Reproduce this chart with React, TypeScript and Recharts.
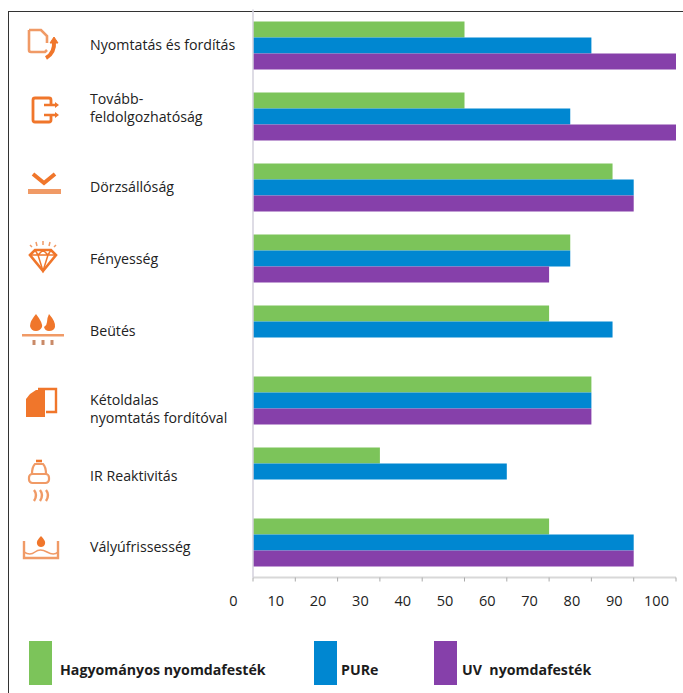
import { Bar, BarChart, Legend, XAxis, YAxis } from 'recharts';

const categories = [
  'Nyomtatás és fordítás',
  'Tovább-\nfeldolgozhatóság',
  'Dörzsállóság',
  'Fényesség',
  'Beütés',
  'Kétoldalas\nnyomtatás fordítóval',
  'IR Reaktivitás',
  'Vályúfrissesség',
];
const hagyomanyos = [50, 50, 85, 75, 70, 80, 30, 70];
const pure = [80, 75, 90, 75, 85, 80, 60, 90];
const uv = [100, 100, 90, 70, null, 80, null, 90];
const xTicks = [0, 10, 20, 30, 40, 50, 60, 70, 80, 90, 100];

const chartData = categories.map((name, i) => ({
  name,
  hagyomanyos: hagyomanyos[i],
  pure: pure[i],
  uv: uv[i],
}));

const GREEN = '#7cc45a';
const BLUE = '#0087d1';
const PURPLE = '#8640aa';
const ORANGE = '#f0762b';
const SOFT = '#f09a66';
const FONT = '"Open Sans", sans-serif';

// label nudges from the row centre, the original places them by hand
const labelShift = [0, -8, 0, 1, 2, 9, 5, 5];

const icons = [
  <g fill="none" stroke={SOFT} strokeWidth="2.6" key="0">
    <path d="M-14 -14 H-2 L4 -8 V-1 M-14 -14 V6 Q-14 8 -12 8 H2 L4 6" />
    <path d="M3 14 Q12 9 11 -3" stroke={ORANGE} strokeWidth="4" />
    <path d="M15 -1 L11 -7 L7 -1 Z" fill={ORANGE} stroke={ORANGE} strokeWidth="1" />
  </g>,
  <g fill="none" stroke={ORANGE} strokeWidth="2.8" key="1">
    <path d="M6 -6 V-10 Q6 -12 4 -12 H-10 Q-12 -12 -12 -10 V10 Q-12 12 -10 12 H4 Q6 12 6 10 V6" />
    <path d="M-1 -5 H11 M-1 5 H11" strokeWidth="2.4" />
    <path d="M10 -8 L14 -5 L10 -2 Z M10 2 L14 5 L10 8 Z" fill={ORANGE} stroke="none" />
  </g>,
  <g key="2">
    <path d="M-11 -12 L0 -3 L11 -12" fill="none" stroke={ORANGE} strokeWidth="4" />
    <rect x={-16} y={3} width={33} height={5} fill={SOFT} />
  </g>,
  <g key="3" fill="none" stroke={ORANGE}>
    <path d="M-13 -6 L-8 -11 H8 L13 -6 L0 10 Z" strokeWidth="2.6" />
    <path d="M-13 -6 H13 M-5 -6 L0 10 L5 -6 M-8 -11 L-5 -6 L0 -11 L5 -6 L8 -11" strokeWidth="1.5" />
    <path d="M0 -20 V-16 M-7 -19 L-6 -15 M7 -19 L6 -15 M-13 -16 L-11 -14 M13 -16 L11 -14" stroke={SOFT} strokeWidth="1.5" />
  </g>,
  <g key="4">
    <path d="M-7 -14 Q0 -5 -1 -1 Q-3 3 -7 3 Q-12 3 -13 -2 Q-13 -7 -7 -14 Z" fill={ORANGE} />
    <path d="M6 -14 Q13 -6 12 -1 Q11 3 6 3 Q2 3 1 -1 Q4 -3 4 -6 Q4 -10 6 -14 Z" fill={ORANGE} />
    <rect x={-21} y={6} width={42} height={2.5} fill={SOFT} />
    <path d="M-9 12 V17 M0 12 V17 M9 12 V17" stroke="#c98a68" strokeWidth="3" />
  </g>,
  <g key="5">
    <path d="M-4 -13 H14 V10 H4" fill="none" stroke={ORANGE} strokeWidth="2.4" />
    <path d="M-12 -8 L-6 -12 H3 V15 H-16 V-3 Z" fill={ORANGE} />
  </g>,
  <g key="6" fill="none" stroke={SOFT} strokeWidth="2.2">
    <path d="M-3 -20 H3" stroke={ORANGE} strokeWidth="2.6" />
    <path d="M-7 -7 Q-7 -14 -4 -17 H4 Q7 -14 7 -7" />
    <rect x={-10} y={-7} width={20} height={9} rx={3.5} />
    <path d="M-5 9 Q-1 14 -5 20 M1 9 Q5 14 1 20 M7 9 Q11 14 7 20" strokeWidth="2.4" />
  </g>,
  <g key="7">
    <path d="M-17 -6 V11 H17 V-6" fill="none" stroke={SOFT} strokeWidth="2.4" />
    <path d="M-17 5 Q-11 9 -6 5 T6 5 T17 5" fill="none" stroke={SOFT} strokeWidth="1.6" />
    <path d="M0 -11 Q5 -6 4 -3 Q3 0 0 0 Q-3 0 -4 -3 Q-5 -6 0 -11 Z" fill={ORANGE} />
  </g>,
];

const iconOffsets = [
  [43, -1],
  [45, -6],
  [44, -1],
  [43, 3],
  [43, -1],
  [42, 2],
  [39, 10],
  [41, 5],
];

function CategoryTick({ y, index, payload }: any) {
  const lines = String(payload.value).split('\n');
  const [ix, iy] = iconOffsets[index];
  const textY = y + labelShift[index] - ((lines.length - 1) * 17.5) / 2;
  return (
    <g>
      <g transform={`translate(${ix},${y + iy})`}>{icons[index]}</g>
      <text x={90} y={textY} dy="0.35em" fontSize={14.2} fontFamily={FONT} fill="#222">
        {lines.map((line: string, i: number) => (
          <tspan key={line} x={90} dy={i === 0 ? '0.35em' : 17.5}>
            {line}
          </tspan>
        ))}
      </text>
    </g>
  );
}

function ValueTick({ x, y, payload }: any) {
  return (
    <text x={x - 19.5} y={y + 22} textAnchor="middle" fontSize={14.5} fontFamily={FONT} fill="#222">
      {payload.value}
    </text>
  );
}

const legendItems = [
  { label: 'Hagyományos nyomdafesték', color: GREEN, left: 29, textLeft: 60 },
  { label: 'PURe', color: BLUE, left: 314, textLeft: 341 },
  { label: 'UV  nyomdafesték', color: PURPLE, left: 434, textLeft: 462 },
];

function LegendRow() {
  return (
    <div style={{ position: 'relative', height: 0 }}>
      {legendItems.map((item) => (
        <div key={item.label}>
          <div
            style={{
              position: 'absolute',
              left: item.left,
              top: 641,
              width: 23,
              height: 44,
              background: item.color,
            }}
          />
          <div
            style={{
              position: 'absolute',
              left: item.textLeft,
              top: 660,
              fontFamily: FONT,
              fontWeight: 700,
              fontSize: 14.2,
              lineHeight: '20px',
              color: '#1c1c1c',
              whiteSpace: 'pre',
              textAlign: 'left',
            }}
          >
            {item.label}
          </div>
        </div>
      ))}
    </div>
  );
}

export default function App() {
  return (
    <div style={{ position: 'absolute', left: 0, top: 0, width: 683, height: 693, background: '#fff', overflow: 'hidden' }}>
      <div
        style={{
          position: 'absolute',
          left: 8,
          top: 11,
          right: 0,
          bottom: 0,
          borderLeft: '1.5px solid #333',
          borderTop: '1.5px solid #333',
        }}
      />
      <BarChart
        width={683}
        height={693}
        data={chartData}
        layout="vertical"
        barSize={16}
        barGap={0}
        barCategoryGap={0}
        margin={{ top: 9.5, right: 7, bottom: 85.5, left: 0 }}
      >
        <XAxis
          type="number"
          domain={[0, 100]}
          ticks={xTicks}
          height={30}
          interval={0}
          tick={<ValueTick />}
          axisLine={{ stroke: '#d8d8d8', strokeWidth: 2 }}
          tickLine={{ stroke: '#aaa' }}
          tickSize={4}
        />
        <YAxis
          type="category"
          dataKey="name"
          width={253}
          interval={0}
          tick={<CategoryTick />}
          axisLine={{ stroke: '#d3d0dc', strokeWidth: 1.5 }}
          tickLine={false}
        />
        <Legend
          content={<LegendRow />}
          wrapperStyle={{ position: 'absolute', left: 0, top: 0, width: 683, height: 0 }}
        />
        <Bar dataKey="hagyomanyos" name="Hagyományos nyomdafesték" fill={GREEN} isAnimationActive={false} />
        <Bar dataKey="pure" name="PURe" fill={BLUE} isAnimationActive={false} />
        <Bar dataKey="uv" name="UV  nyomdafesték" fill={PURPLE} isAnimationActive={false} />
      </BarChart>
    </div>
  );
}
